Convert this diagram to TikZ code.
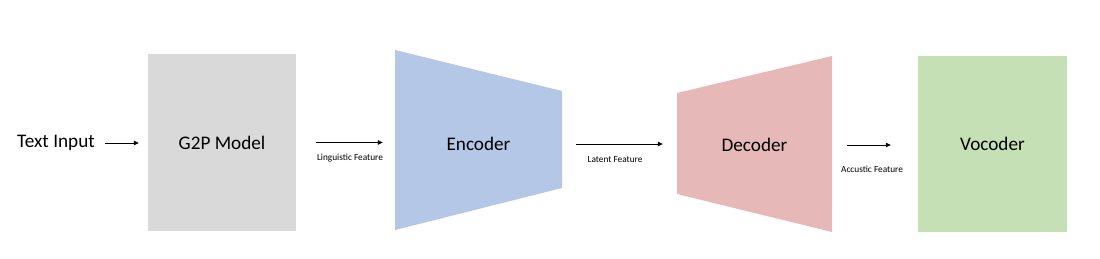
\documentclass[tikz,border=0pt]{standalone}
\usepackage{fontspec}
\setmainfont{Carlito}
\usetikzlibrary{arrows.meta}
\definecolor{boxgray}{HTML}{D9D9D9}
\definecolor{boxblue}{HTML}{B4C7E7}
\definecolor{boxpink}{HTML}{E6B9B8}
\definecolor{boxgreen}{HTML}{C5E0B4}
\tikzset{
  mainlabel/.style={font=\fontsize{19.2}{22}\selectfont, text=black, inner sep=0pt},
  smalllabel/.style={font=\fontsize{9.3}{11}\selectfont, text=black, inner sep=0pt},
  blockbox/.style={mainlabel, minimum width=#1, minimum height=177pt},
  arr/.style={-{Triangle[length=5pt,width=4.5pt]}, line width=0.8pt, black},
}
\begin{document}
\begin{tikzpicture}[x=1pt,y=-1pt]
\useasboundingbox (0,0) rectangle (1100,258);
% shapes
\fill[boxblue] (395,50) -- (562,91) -- (562,188) -- (395,230) -- cycle;
\fill[boxpink] (677,93) -- (832,56) -- (832,232) -- (677,194) -- cycle;
% nodes
\node[mainlabel] (txt) at (56,143) {Text Input};
\node[blockbox=148pt, fill=boxgray] (g2p) at (222,142.5) {G2P Model};
\node[blockbox=167pt] (enc) at (478.5,144) {Encoder};
\node[blockbox=155pt] (dec) at (754.5,145) {Decoder};
\node[blockbox=149pt, minimum height=176pt, fill=boxgreen] (voc) at (992.5,144) {Vocoder};
% connectors
\draw[arr, shorten <=10pt, shorten >=9pt] (txt.east) -- (txt.east -| g2p.west);
\draw[arr, shorten <=20pt, shorten >=12pt] (g2p.east) -- (g2p.east -| enc.west);
\draw[arr, shorten <=14pt, shorten >=14pt] (enc.east) -- (enc.east -| dec.west);
\draw[arr, shorten <=15pt, shorten >=27pt] (dec.east) -- (dec.east -| voc.west);
% labels
\node[smalllabel] (l1) at (350,158) {Linguistic Feature};
\node[smalllabel] (l2) at (615,160) {Latent Feature};
\node[smalllabel] (l3) at (872,169) {Accustic Feature};
\end{tikzpicture}
\end{document}
